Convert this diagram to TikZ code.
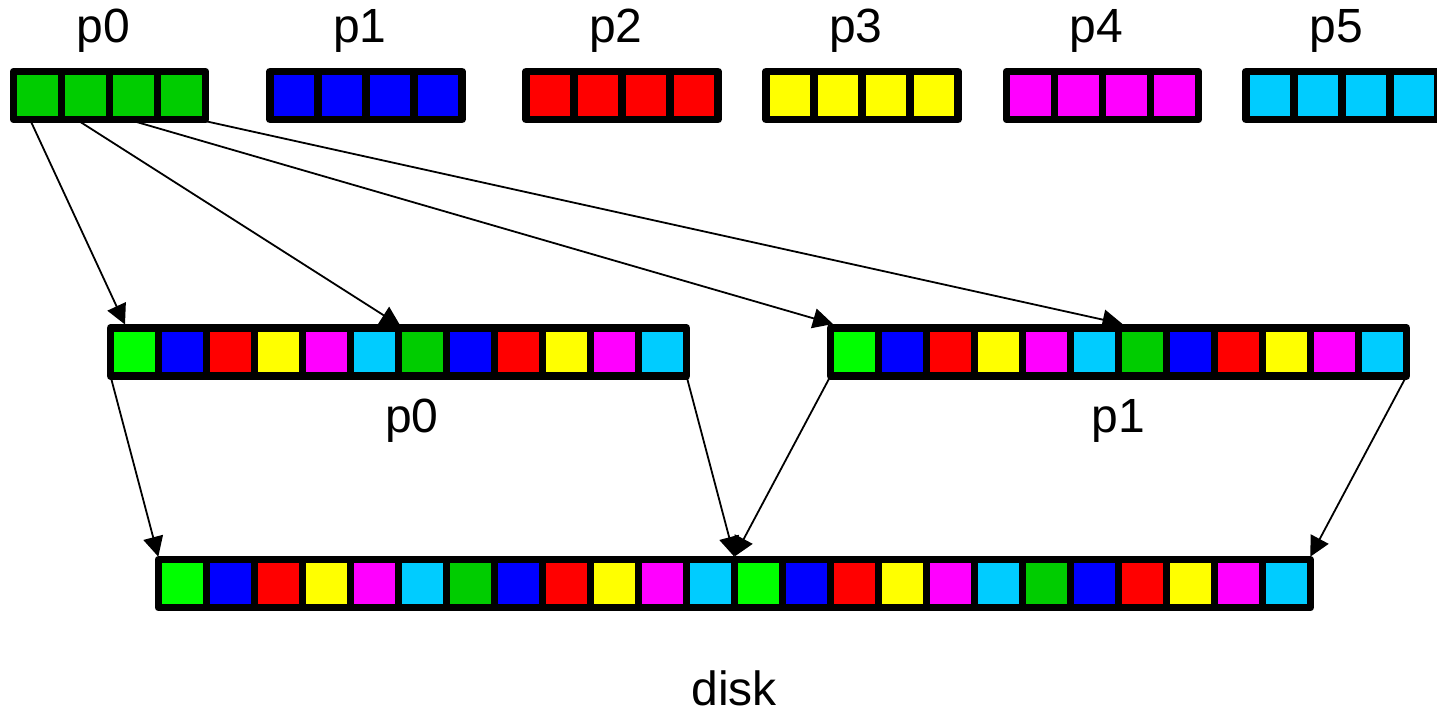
\documentclass[tikz,border=0pt]{standalone}
\usepackage{fontspec}
\setmainfont{Liberation Sans}
\usetikzlibrary{arrows.meta, positioning, calc}

\definecolor{dgreen}{HTML}{00CC00}
\definecolor{lgreen}{HTML}{00FF00}
\definecolor{pblue}{HTML}{0000FF}
\definecolor{pred}{HTML}{FF0000}
\definecolor{pyellow}{HTML}{FFFF00}
\definecolor{pmagenta}{HTML}{FF00FF}
\definecolor{pcyan}{HTML}{00CCFF}

\begin{document}
\begin{tikzpicture}[
    x=0.5pt, y=-0.5pt,
    font=\fontsize{24}{28}\selectfont,
    >={Triangle[length=10pt, width=10pt]},
    % --- one block of a buffer ---
    cell/.style = {rectangle, draw=black, line width=3.75pt, line join=round,
                   minimum size=24pt, inner sep=0pt, outer sep=0pt},
    arr/.style  = {->, line width=0.9pt},
    lbl/.style  = {anchor=base, inner sep=0pt}
]
\useasboundingbox (0,0) rectangle (1437,718);

% ===================== PROCESS BUFFERS =====================
\foreach \x/\col [count=\p from 0] in {13.5/dgreen, 270/pblue, 526/pred,
                                       766/pyellow, 1006.5/pmagenta, 1246/pcyan} {
    \foreach \i in {1,...,4}
        \node[cell, fill=\col] (p\p-\i) at (\x+48*\i-24, 95.5) {};
    \node[lbl] (lbl\p) at ($(p\p-2.east)+(-6,-53.5)$) {p\p};
}

% ===================== AGGREGATED BUFFERS =====================
\foreach \x [count=\p from 0] in {110.5, 830.5} {
    \foreach \col [count=\i] in {lgreen, pblue, pred, pyellow, pmagenta, pcyan,
                                 dgreen, pblue, pred, pyellow, pmagenta, pcyan}
        \node[cell, fill=\col] (m\p-\i) at (\x+48*\i-24, 352) {};
}
\node[lbl] (agg0) at ($(m0-6.south east)+(13.5,56)$) {p0};
\node[lbl] (agg1) at ($(m1-6.south east)+(0,56)$)    {p1};

% ===================== DISK =====================
\foreach \col [count=\i] in {lgreen, pblue, pred, pyellow, pmagenta, pcyan,
                             dgreen, pblue, pred, pyellow, pmagenta, pcyan,
                             lgreen, pblue, pred, pyellow, pmagenta, pcyan,
                             dgreen, pblue, pred, pyellow, pmagenta, pcyan}
    \node[cell, fill=\col] (d-\i) at (158.3+48*\i-24, 583.7) {};
\node[lbl] (disk) at ($(d-12.south east)+(0,98)$) {disk};

% ===================== FLECHAS =====================
% p0 -> aggregators
\draw[arr] ($(p0-1.south)+(-7.5,0)$)   -- ($(m0-1.north west)+(14.5,-3.5)$);
\draw[arr] ($(p0-2.south)+(-9,0)$)     -- ($(m0-7.north west)+(2,-2)$);
\draw[arr] ($(p0-3.south)+(-5.5,0)$)   -- ($(m1-1.north west)+(2.5,-4)$);
\draw[arr] ($(p0-4.south east)+(-7.5,0)$) -- ($(m1-7.north west)+(4,-4)$);

% aggregators -> disk
\draw[arr] (m0-1.south west)  -- ($(d-1.north west)+(0,-3)$);
\draw[arr] (m0-12.south east) -- ($(d-13.north west)+(0,-3)$);
\draw[arr] (m1-1.south west)  -- ($(d-13.north west)+(0,-3)$);
\draw[arr] (m1-12.south east) -- ($(d-24.north east)+(0,-3)$);

\end{tikzpicture}
\end{document}
